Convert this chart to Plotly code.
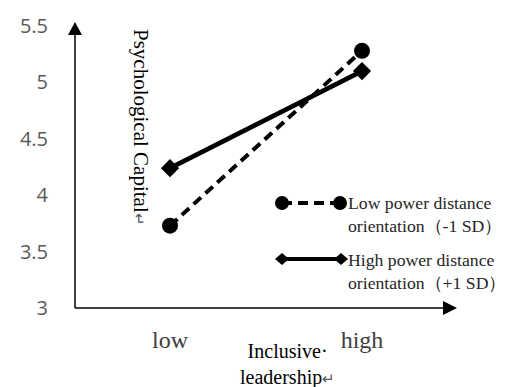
import plotly.graph_objects as go

# ---- data ----
categories = ["low", "high"]
low_pdo = [3.73, 5.28]     # Low power distance orientation (-1 SD)
high_pdo = [4.24, 5.10]    # High power distance orientation (+1 SD)
y_tick_vals = [3, 3.5, 4, 4.5, 5, 5.5]
y_tick_text = ["3", "3.5", "4", "4.5", "5", "5.5"]
legend_low = "Low power distance<br>orientation（-1 SD）"
legend_high = "High power distance<br>orientation（+1 SD）"
RET = '<span style="font-size:15px;fill:#555">↵</span>'
y_title = "Psychological Capital" + RET
x_title = "Inclusive·<br>leadership" + RET

W, H = 508, 387
L, R, T, B = 75, 53, 26, 79
PW, PH = W - L - R, H - T - B


def px(x):
    return (x - L) / PW


def py(y):
    return (H - B - y) / PH


SERIF = "Liberation Serif, Times New Roman, serif"
xpos = [0, 1]

fig = go.Figure()
fig.add_trace(go.Scatter(
    x=xpos, y=low_pdo, mode="lines+markers", name="low",
    line=dict(color="black", width=4, dash="10px,6px"),
    marker=dict(symbol="circle", size=16, color="black"),
    cliponaxis=False, showlegend=False))
fig.add_trace(go.Scatter(
    x=xpos, y=high_pdo, mode="lines+markers", name="high",
    line=dict(color="black", width=4.5),
    marker=dict(symbol="diamond", size=14, color="black"),
    cliponaxis=False, showlegend=False))

shapes = []
# axes with arrows
shapes.append(dict(type="line", xref="paper", yref="paper",
                   x0=px(75), y0=py(308), x1=px(75), y1=py(34),
                   line=dict(color="black", width=1.5)))
shapes.append(dict(type="path", xref="paper", yref="paper",
                   path=f"M{px(68)},{py(35)} L{px(75)},{py(22)} L{px(82)},{py(35)} Z",
                   fillcolor="black", line=dict(color="black", width=0)))
shapes.append(dict(type="line", xref="paper", yref="paper",
                   x0=px(75), y0=py(308), x1=px(445), y1=py(308),
                   line=dict(color="black", width=1.5)))
shapes.append(dict(type="path", xref="paper", yref="paper",
                   path=f"M{px(443)},{py(301)} L{px(457)},{py(308)} L{px(443)},{py(315)} Z",
                   fillcolor="black", line=dict(color="black", width=0)))

# legend symbols
ly1, ly2 = 203, 259
shapes.append(dict(type="line", xref="paper", yref="paper",
                   x0=px(282), y0=py(ly1), x1=px(340), y1=py(ly1),
                   line=dict(color="black", width=4, dash="10px,6px")))
for cx in (282, 340):
    shapes.append(dict(type="circle", xref="paper", yref="paper",
                       x0=px(cx - 7), x1=px(cx + 7), y0=py(ly1 + 7), y1=py(ly1 - 7),
                       fillcolor="black", line=dict(color="black", width=0)))
shapes.append(dict(type="line", xref="paper", yref="paper",
                   x0=px(282), y0=py(ly2), x1=px(340), y1=py(ly2),
                   line=dict(color="black", width=4)))
for cx in (282, 341):
    shapes.append(dict(type="path", xref="paper", yref="paper",
                       path=(f"M{px(cx - 7)},{py(ly2)} L{px(cx)},{py(ly2 - 6)} "
                             f"L{px(cx + 7)},{py(ly2)} L{px(cx)},{py(ly2 + 6)} Z"),
                       fillcolor="black", line=dict(color="black", width=0)))

annotations = [
    dict(text=y_title, textangle=90, xref="paper", yref="paper",
         x=px(141), y=py(127), xanchor="center", yanchor="middle", showarrow=False,
         font=dict(family=SERIF, size=21, color="black")),
    dict(text=x_title, xref="paper", yref="paper",
         x=px(287), y=py(364), xanchor="center", yanchor="middle",
         showarrow=False, bgcolor="white", borderpad=4,
         font=dict(family=SERIF, size=20, color="black")),
    dict(text=legend_low, xref="paper", yref="paper", x=px(346), y=py(214),
         xanchor="left", yanchor="middle", align="left", showarrow=False,
         font=dict(family=SERIF, size=17.7, color="#262626")),
    dict(text=legend_high, xref="paper", yref="paper", x=px(346), y=py(271),
         xanchor="left", yanchor="middle", align="left", showarrow=False,
         font=dict(family=SERIF, size=17.7, color="#262626")),
]

fig.update_layout(
    width=W, height=H,
    margin=dict(l=L, r=R, t=T, b=B),
    paper_bgcolor="white", plot_bgcolor="white",
    shapes=shapes, annotations=annotations,
    xaxis=dict(range=[-95 / 192, 285 / 192], tickvals=xpos, ticktext=categories,
               showgrid=False, zeroline=False, showline=False, ticks="",
               ticklabelstandoff=15,
               tickfont=dict(family=SERIF, size=24, color="#404040")),
    yaxis=dict(range=[3, 5.5], tickvals=y_tick_vals, ticktext=y_tick_text,
               showgrid=False, zeroline=False, showline=False, ticks="",
               ticklabelstandoff=26,
               tickfont=dict(family="Open Sans, sans-serif", size=20, color="#595959")),
)

fig.write_html("out.html", config={"displayModeBar": False},
               post_script="document.body.style.margin='0';")
